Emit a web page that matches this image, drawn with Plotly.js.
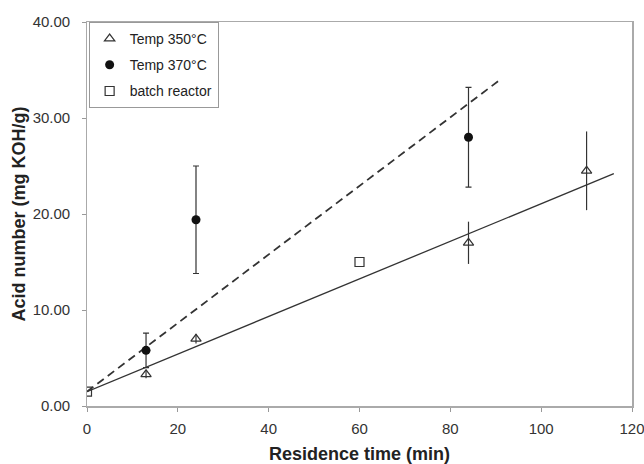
<!DOCTYPE html>
<html>
<head>
<meta charset="utf-8">
<script src="https://cdn.plot.ly/plotly-3.0.1.min.js"></script>
<style>html,body{margin:0;padding:0;background:#fff;}#chart{width:644px;height:464px;}</style>
</head>
<body>
<div id="chart"></div>
<script>
// Data
const t350 = [13, 24, 84, 110];
const a350 = [3.3, 7.0, 17.0, 24.5];
const e350 = [0.4, 0.5, 2.2, 4.1];

const t370 = [13, 24, 84];
const a370 = [5.8, 19.4, 28.0];
const e370 = [1.8, 5.6, 5.2];

const tBatch = [0, 60];
const aBatch = [1.5, 15.0];

const fit350X = [0, 116];
const fit350Y = [1.5, 24.2];
const fit370X = [0, 91];
const fit370Y = [1.5, 34.0];

const yTicks = [0, 10, 20, 30, 40];
const xTicks = [0, 20, 40, 60, 80, 100, 120];

const dark = '#333333';
const traces = [
  {x: fit350X, y: fit350Y, mode: 'lines', line: {color: dark, width: 1.3}, showlegend: false, hoverinfo: 'skip'},
  {x: fit370X, y: fit370Y, mode: 'lines', line: {color: dark, width: 1.8, dash: '8px,5px'}, showlegend: false, hoverinfo: 'skip'},
  {x: t350, y: a350, mode: 'markers', name: 'Temp 350°C', legendgroup: 'a',
   marker: {symbol: 'triangle-up-open', size: 9, color: dark, line: {width: 1.2, color: dark}},
   error_y: {type: 'data', array: e350, visible: true, color: dark, thickness: 1.2, width: 0}},
  {x: t370, y: a370, mode: 'markers', name: 'Temp 370°C', legendgroup: 'b',
   marker: {symbol: 'circle', size: 9, color: '#111'},
   error_y: {type: 'data', array: e370, visible: true, color: dark, thickness: 1.2, width: 3}},
  {x: tBatch, y: aBatch, mode: 'markers', name: 'batch reactor', legendgroup: 'c',
   marker: {symbol: 'square-open', size: 9, color: dark, line: {width: 1.2, color: dark}}}
];

const layout = {
  width: 644, height: 464,
  margin: {l: 87, r: 12, t: 22, b: 58},
  paper_bgcolor: '#fff', plot_bgcolor: '#fff',
  font: {family: 'Liberation Sans, Arial, sans-serif', size: 14, color: '#333'},
  showlegend: true,
  legend: {x: 0.003, y: 1, xanchor: 'left', yanchor: 'top', bgcolor: '#fff',
           bordercolor: '#999', borderwidth: 1, font: {size: 14, color: '#222'},
           itemwidth: 30, tracegroupgap: 5},
  xaxis: {range: [0, 120], tickvals: xTicks, ticktext: xTicks.map(String),
          showgrid: false, zeroline: false, showline: true, linecolor: '#aaa', linewidth: 1.5,
          mirror: true, ticks: 'outside', ticklen: 4, tickcolor: '#999',
          tickfont: {size: 15, color: '#333'}, ticklabelstandoff: 4, ticklabeloverflow: 'allow',
          title: {text: '<b>Residence time (min)</b>', font: {size: 18, color: '#222'}, standoff: 12}},
  yaxis: {range: [0, 40], tickvals: yTicks, ticktext: yTicks.map(v => v.toFixed(2) + '\u00a0\u00a0'),
          showgrid: false, zeroline: false, showline: true, linecolor: '#aaa', linewidth: 1.5,
          mirror: true, ticks: 'outside', ticklen: 4, tickcolor: '#999',
          tickfont: {size: 15, color: '#333'}, ticklabeloverflow: 'allow',
          title: {text: '<b>Acid number (mg KOH/g)</b>', font: {size: 18, color: '#222'}, standoff: 2}}
};

Plotly.newPlot('chart', traces, layout, {staticPlot: true, displayModeBar: false});
</script>
</body>
</html>
